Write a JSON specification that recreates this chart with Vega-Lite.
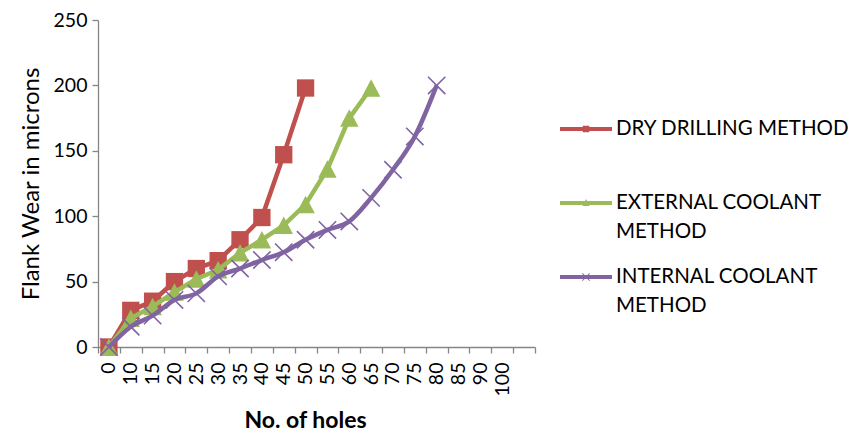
{
  "$schema": "https://vega.github.io/schema/vega-lite/v6.json",
  "width": 437,
  "height": 327,
  "autosize": {"type": "none"},
  "padding": {"left": 98, "top": 20, "right": 324, "bottom": 87},
  "background": "white",
  "config": {
    "view": {"stroke": null},
    "font": "Lato",
    "style": {"guide-label": {"lineHeight": 29}},
    "axis": {
      "grid": false,
      "domainColor": "#868686",
      "tickColor": "#868686",
      "domainWidth": 1.3,
      "tickWidth": 1.3,
      "tickSize": 6,
      "labelColor": "#000000",
      "titleColor": "#000000",
      "labelFont": "Lato",
      "titleFont": "Lato"
    }
  },
  "data": {
    "values": [
      {"series": "DRY DRILLING METHOD", "holes": "0", "wear": 0},
      {"series": "DRY DRILLING METHOD", "holes": "10", "wear": 28},
      {"series": "DRY DRILLING METHOD", "holes": "15", "wear": 35},
      {"series": "DRY DRILLING METHOD", "holes": "20", "wear": 50},
      {"series": "DRY DRILLING METHOD", "holes": "25", "wear": 60},
      {"series": "DRY DRILLING METHOD", "holes": "30", "wear": 66},
      {"series": "DRY DRILLING METHOD", "holes": "35", "wear": 82},
      {"series": "DRY DRILLING METHOD", "holes": "40", "wear": 99},
      {"series": "DRY DRILLING METHOD", "holes": "45", "wear": 147},
      {"series": "DRY DRILLING METHOD", "holes": "50", "wear": 198},
      {"series": "EXTERNAL COOLANT METHOD", "holes": "0", "wear": 0},
      {"series": "EXTERNAL COOLANT METHOD", "holes": "10", "wear": 22},
      {"series": "EXTERNAL COOLANT METHOD", "holes": "15", "wear": 31},
      {"series": "EXTERNAL COOLANT METHOD", "holes": "20", "wear": 42},
      {"series": "EXTERNAL COOLANT METHOD", "holes": "25", "wear": 52},
      {"series": "EXTERNAL COOLANT METHOD", "holes": "30", "wear": 59},
      {"series": "EXTERNAL COOLANT METHOD", "holes": "35", "wear": 72},
      {"series": "EXTERNAL COOLANT METHOD", "holes": "40", "wear": 82},
      {"series": "EXTERNAL COOLANT METHOD", "holes": "45", "wear": 93},
      {"series": "EXTERNAL COOLANT METHOD", "holes": "50", "wear": 109},
      {"series": "EXTERNAL COOLANT METHOD", "holes": "55", "wear": 136},
      {"series": "EXTERNAL COOLANT METHOD", "holes": "60", "wear": 175},
      {"series": "EXTERNAL COOLANT METHOD", "holes": "65", "wear": 198},
      {"series": "INTERNAL COOLANT METHOD", "holes": "0", "wear": 0},
      {"series": "INTERNAL COOLANT METHOD", "holes": "10", "wear": 15.5},
      {"series": "INTERNAL COOLANT METHOD", "holes": "15", "wear": 24},
      {"series": "INTERNAL COOLANT METHOD", "holes": "20", "wear": 36},
      {"series": "INTERNAL COOLANT METHOD", "holes": "25", "wear": 41},
      {"series": "INTERNAL COOLANT METHOD", "holes": "30", "wear": 54},
      {"series": "INTERNAL COOLANT METHOD", "holes": "35", "wear": 60},
      {"series": "INTERNAL COOLANT METHOD", "holes": "40", "wear": 66.5},
      {"series": "INTERNAL COOLANT METHOD", "holes": "45", "wear": 72.5},
      {"series": "INTERNAL COOLANT METHOD", "holes": "50", "wear": 82},
      {"series": "INTERNAL COOLANT METHOD", "holes": "55", "wear": 89.5},
      {"series": "INTERNAL COOLANT METHOD", "holes": "60", "wear": 96},
      {"series": "INTERNAL COOLANT METHOD", "holes": "65", "wear": 114},
      {"series": "INTERNAL COOLANT METHOD", "holes": "70", "wear": 135.5},
      {"series": "INTERNAL COOLANT METHOD", "holes": "75", "wear": 161},
      {"series": "INTERNAL COOLANT METHOD", "holes": "80", "wear": 200}
    ]
  },
  "encoding": {
    "x": {
      "field": "holes",
      "type": "ordinal",
      "bandPosition": 0.5,
      "scale": {
        "type": "band",
        "domain": ["0", "10", "15", "20", "25", "30", "35", "40", "45", "50", "55", "60", "65", "70", "75", "80", "85", "90", "100", " "],
        "paddingInner": 0,
        "paddingOuter": 0
      },
      "axis": {
        "title": "No. of holes",
        "titleFontSize": 23,
        "titleFontWeight": "bold",
        "titleX": 207,
        "titleY": 62,
        "labelAngle": 270,
        "labelAlign": "right",
        "labelBaseline": "middle",
        "labelFontSize": 19.5,
        "labelPadding": 9,
        "tickBand": "extent"
      }
    },
    "y": {
      "field": "wear",
      "type": "quantitative",
      "scale": {"domain": [0, 250], "nice": false},
      "axis": {
        "title": "Flank Wear in microns",
        "titleFontSize": 24,
        "titleFontWeight": "normal",
        "titlePadding": 10,
        "values": [0, 50, 100, 150, 200, 250],
        "labelFontSize": 19.5,
        "labelPadding": 5
      }
    }
  },
  "layer": [
    {
      "transform": [{"filter": "datum.series == 'DRY DRILLING METHOD'"}],
      "mark": {"type": "line", "color": "#C0504D", "strokeWidth": 4.5}
    },
    {
      "transform": [{"filter": "datum.series == 'DRY DRILLING METHOD'"}],
      "mark": {"type": "point", "shape": "square", "filled": true, "color": "#C0504D", "size": 300, "opacity": 1}
    },
    {
      "transform": [{"filter": "datum.series == 'EXTERNAL COOLANT METHOD'"}],
      "mark": {"type": "line", "color": "#9BBB59", "strokeWidth": 4.5}
    },
    {
      "transform": [{"filter": "datum.series == 'EXTERNAL COOLANT METHOD'"}],
      "mark": {"type": "point", "shape": "M0,-0.95L1,0.95L-1,0.95Z", "filled": true, "color": "#9BBB59", "size": 340, "opacity": 1}
    },
    {
      "transform": [{"filter": "datum.series == 'INTERNAL COOLANT METHOD'"}],
      "mark": {"type": "line", "color": "#8064A2", "strokeWidth": 4.5, "interpolate": "monotone"}
    },
    {
      "transform": [{"filter": "datum.series == 'INTERNAL COOLANT METHOD'"}],
      "mark": {"type": "point", "shape": "M-1,-1L1,1M-1,1L1,-1", "filled": false, "color": "#8064A2", "strokeWidth": 1.6, "size": 300, "opacity": 1}
    },
    {
      "transform": [{"filter": "false"}],
      "mark": {"type": "point", "filled": true, "size": 0, "opacity": 1},
      "encoding": {
        "color": {
          "field": "series",
          "type": "nominal",
          "scale": {
            "domain": ["DRY DRILLING METHOD", "EXTERNAL COOLANT METHOD", "INTERNAL COOLANT METHOD"],
            "range": ["#C0504D", "#9BBB59", "#8064A2"]
          },
          "legend": {
            "title": null,
            "orient": "none",
            "legendX": 462,
            "legendY": 83,
            "padding": 0,
            "symbolSize": 2704,
            "symbolStrokeWidth": 0,
            "labelFont": "Lato",
            "labelFontSize": 20.5,
            "labelColor": "#000000",
            "labelLimit": 300,
            "labelOffset": 4,
            "rowPadding": 8,
            "labelExpr": "datum.label == 'DRY DRILLING METHOD' ? [datum.label, ''] : [replace(datum.label, ' METHOD', ''), 'METHOD']"
          }
        },
        "shape": {
          "field": "series",
          "type": "nominal",
          "scale": {
            "domain": ["DRY DRILLING METHOD", "EXTERNAL COOLANT METHOD", "INTERNAL COOLANT METHOD"],
            "range": [
              "M-1,-0.08L1,-0.08L1,0.08L-1,0.08Z M-0.125,-0.125L0.125,-0.125L0.125,0.125L-0.125,0.125Z",
              "M-1,-0.08L1,-0.08L1,0.08L-1,0.08Z M0,-0.15L0.14,0.12L-0.14,0.12Z",
              "M-1,-0.08L1,-0.08L1,0.08L-1,0.08Z M-0.129,-0.151L0.151,0.129L0.129,0.151L-0.151,-0.129Z M0.151,-0.129L-0.129,0.151L-0.151,0.129L0.129,-0.151Z"
            ]
          },
          "legend": {
            "title": null,
            "orient": "none",
            "legendX": 462,
            "legendY": 83,
            "padding": 0,
            "symbolSize": 2704,
            "symbolStrokeWidth": 0,
            "labelFont": "Lato",
            "labelFontSize": 20.5,
            "labelColor": "#000000",
            "labelLimit": 300,
            "labelOffset": 4,
            "rowPadding": 8,
            "labelExpr": "datum.label == 'DRY DRILLING METHOD' ? [datum.label, ''] : [replace(datum.label, ' METHOD', ''), 'METHOD']"
          }
        }
      }
    }
  ]
}
